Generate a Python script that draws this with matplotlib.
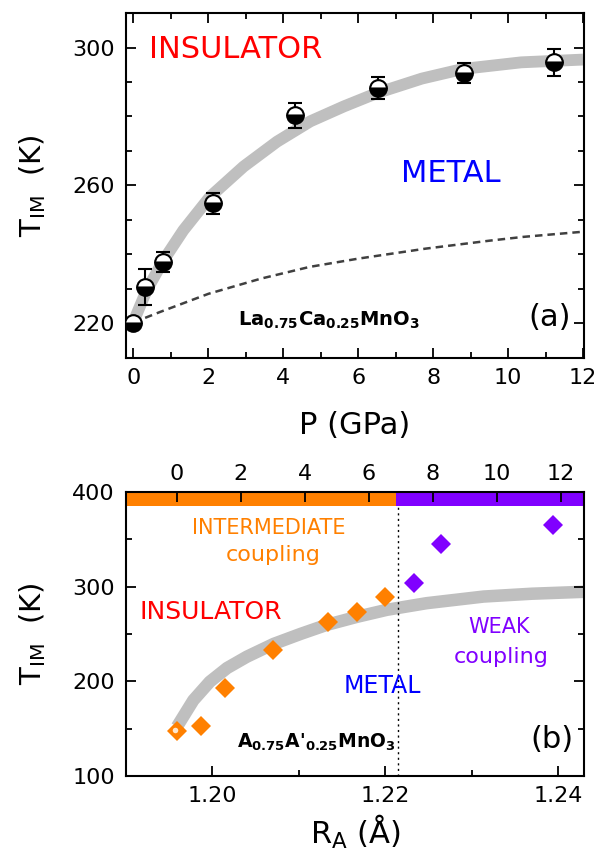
import matplotlib
matplotlib.use("Agg")
import matplotlib.pyplot as plt
from matplotlib.ticker import MultipleLocator

plt.rcParams['font.family'] = ['DejaVu Sans']
plt.rcParams['mathtext.default'] = 'regular'

# ---- panel (a): T_IM vs pressure ----
p_data = [0.0, 0.31, 0.80, 2.11, 4.32, 6.52, 8.82, 11.22]
t_data = [220.0, 230.6, 237.8, 254.8, 280.3, 288.3, 292.6, 295.7]
t_err = [0.0, 5.1, 3.0, 3.0, 3.6, 3.1, 3.0, 4.0]

p_curve = [0.0, 0.35, 0.8, 1.33, 2.04, 2.94, 3.83, 4.72, 5.61, 6.5, 7.7, 8.8, 10.35, 12.0]
t_curve = [220.5, 229.6, 238.3, 247.0, 256.7, 265.5, 272.7, 278.6, 282.9, 286.8, 291.0, 293.8, 295.7, 296.5]

p_dash = [0.0, 0.7, 2.0, 3.4, 4.7, 6.0, 7.8, 9.5, 10.4, 12.0]
t_dash = [220.3, 223.3, 228.6, 233.0, 236.4, 238.8, 241.7, 244.0, 245.1, 246.6]

# ---- panel (b): T_IM vs <r_A> ----
ra_orange = [1.1959, 1.1987, 1.2015, 1.2070, 1.2134, 1.2167, 1.2200]
t_orange = [147, 152.5, 192.7, 233, 263, 273, 288.5]
ra_purple = [1.2233, 1.2265, 1.2394]
t_purple = [303.7, 345, 365.5]

ra_curve = [1.1959, 1.1978, 1.1997, 1.2017, 1.2040, 1.2071, 1.2102, 1.2132,
            1.2167, 1.2202, 1.2248, 1.2314, 1.2370, 1.2430]
t_curve_b = [152, 180, 199.5, 214, 226, 239.5, 250, 259.5, 268, 275.5, 282.5,
             289.5, 292.5, 294.5]

ra_boundary = 1.2213
p_top_ticks = [0, 2, 4, 6, 8, 10, 12]

ORANGE = '#FF8000'
PURPLE = '#8000FF'
GRAY = '#bfbfbf'


def style_axes(ax):
    for s in ax.spines.values():
        s.set_linewidth(1.5)
    ax.tick_params(which='both', direction='in', width=1.3, labelsize=16)
    ax.tick_params(which='major', length=7)
    ax.tick_params(which='minor', length=4.5)


fig = plt.figure(figsize=(6, 8.67), dpi=100)

# ---------------- top panel ----------------
ax1 = fig.add_axes([0.21, 0.5871, 0.763, 0.3979])
ax1.plot(p_curve, t_curve, color=GRAY, lw=8.5, solid_capstyle='butt',
         solid_joinstyle='round', zorder=1)
ax1.plot(p_dash, t_dash, color='#404040', lw=1.8, dashes=(3, 2), zorder=2)
ax1.errorbar(p_data, t_data, yerr=t_err, fmt='none', ecolor='black',
             elinewidth=1.5, capsize=5, capthick=1.5, zorder=3)
ax1.plot(p_data, t_data, ls='none', marker='o', markersize=12,
         fillstyle='bottom', markerfacecolor='black',
         markerfacecoloralt='white', markeredgecolor='black',
         markeredgewidth=1.5, zorder=4)

ax1.set_xlim(-0.2, 12.02)
ax1.set_ylim(210, 310)
ax1.xaxis.set_major_locator(MultipleLocator(2))
ax1.xaxis.set_minor_locator(MultipleLocator(1))
ax1.yaxis.set_major_locator(MultipleLocator(40))
ax1.yaxis.set_minor_locator(MultipleLocator(10))
ax1.set_yticks([220, 260, 300])
style_axes(ax1)
ax1.tick_params(which='both', top=True, right=True)
ax1.tick_params(axis='x', pad=7)
ax1.tick_params(axis='y', pad=8)

ax1.set_xlabel('P (GPa)', fontsize=22)
ax1.xaxis.set_label_coords(0.5, -0.155)
ax1.set_ylabel(r'T$_{IM}$  (K)', fontsize=21)
ax1.yaxis.set_label_coords(-0.17, 0.5)

ax1.text(2.73, 299.4, 'INSULATOR', color='red', fontsize=22,
         ha='center', va='center')
ax1.text(8.48, 263.6, 'METAL', color='blue', fontsize=22,
         ha='center', va='center')
ax1.text(11.1, 221.7, '(a)', fontsize=22, ha='center', va='center')
ax1.text(2.8, 219.5, r'La$_{0.75}$Ca$_{0.25}$MnO$_3$', fontsize=14,
         fontweight='bold', ha='left', va='baseline')

# ---------------- bottom panel ----------------
ax2 = fig.add_axes([0.21, 0.105, 0.763, 0.3276])
ax2.plot(ra_curve, t_curve_b, color=GRAY, lw=9, solid_capstyle='butt',
         solid_joinstyle='round', zorder=1)
ax2.plot(ra_orange, t_orange, ls='none', marker='D', markersize=10.5,
         color=ORANGE, markeredgewidth=0, zorder=3)
ax2.plot(ra_purple, t_purple, ls='none', marker='D', markersize=10.5,
         color=PURPLE, markeredgewidth=0, zorder=3)
ax2.plot(ra_orange[0] - 0.0002, t_orange[0] + 2, ls='none', marker='o',
         markersize=4, color='#ffe6cc', markeredgewidth=0, zorder=4)

ax2.set_xlim(1.19, 1.243)
ax2.set_ylim(100, 400)
ax2.fill_between([1.19, ra_boundary], 385, 400, color=ORANGE, lw=0, zorder=2)
ax2.fill_between([ra_boundary, 1.243], 385, 400, color=PURPLE, lw=0, zorder=2)
ax2.plot([ra_boundary + 0.0002, ra_boundary + 0.0002], [100, 385], color='black',
         lw=1, ls=(0, (1.5, 2.5)), zorder=2)

ax2.xaxis.set_major_locator(MultipleLocator(0.02))
ax2.xaxis.set_minor_locator(MultipleLocator(0.01))
ax2.yaxis.set_major_locator(MultipleLocator(100))
ax2.yaxis.set_minor_locator(MultipleLocator(50))
ax2.set_xticks([1.20, 1.22, 1.24])
ax2.set_xticklabels(['1.20', '1.22', '1.24'])
style_axes(ax2)
ax2.tick_params(which='both', top=False, right=True)
ax2.tick_params(axis='x', pad=7)
ax2.tick_params(axis='y', pad=8)

ax2.set_xlabel(r'R$_A$ (Å)', fontsize=22)
ax2.xaxis.set_label_coords(0.5, -0.13)
ax2.set_ylabel(r'T$_{IM}$  (K)', fontsize=21)
ax2.yaxis.set_label_coords(-0.17, 0.5)

ax2t = ax2.twiny()
ax2t.set_xlim(-1.58, 12.72)
ax2t.set_xticks(p_top_ticks)
for s in ax2t.spines.values():
    s.set_visible(False)
ax2t.tick_params(axis='x', direction='in', length=7, width=1.3,
                 labelsize=16, pad=6)

ax2.text(1.2065, 362, 'INTERMEDIATE', color=ORANGE, fontsize=15,
         ha='center', va='center')
ax2.text(1.2070, 333, 'coupling', color=ORANGE, fontsize=16,
         ha='center', va='center')
ax2.text(1.1998, 273, 'INSULATOR', color='red', fontsize=18,
         ha='center', va='center')
ax2.text(1.2197, 195, 'METAL', color='blue', fontsize=17,
         ha='center', va='center')
ax2.text(1.2332, 257, 'WEAK', color=PURPLE, fontsize=15,
         ha='center', va='center')
ax2.text(1.2334, 226, 'coupling', color=PURPLE, fontsize=16,
         ha='center', va='center')
ax2.text(1.2393, 138, '(b)', fontsize=22, ha='center', va='center')
ax2.text(1.2029, 129.6, r"A$_{0.75}$A'$_{0.25}$MnO$_3$", fontsize=13.5,
         fontweight='bold', ha='left', va='baseline')

fig.savefig('out.png', dpi=100)
